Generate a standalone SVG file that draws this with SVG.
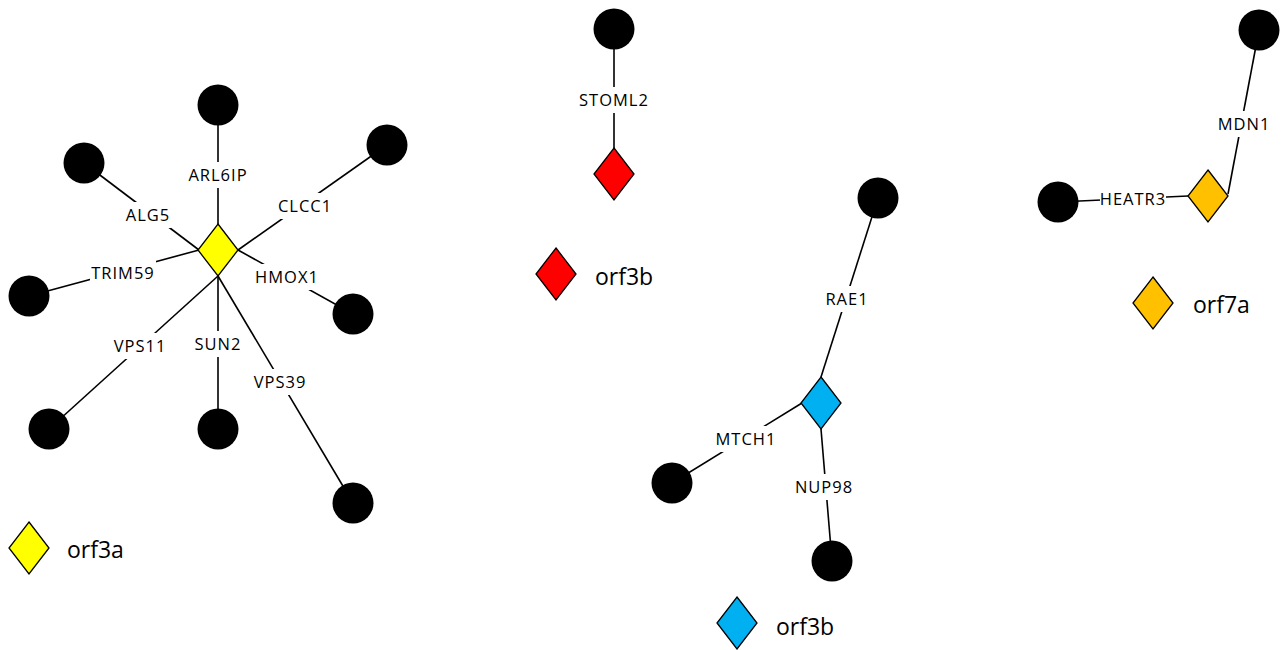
<svg xmlns="http://www.w3.org/2000/svg" width="1284" height="650" viewBox="0 0 1284 650">
<style>
.e{stroke:#000;stroke-width:1.6;fill:none}
.n{fill:#000}
.d{stroke:#000;stroke-width:1.3}
.lb{fill:#fff}
.t{font-family:"Open Sans","Liberation Sans",sans-serif;font-size:16.5px;letter-spacing:1px;fill:#000;text-anchor:middle}
.lg{font-family:"Open Sans","Liberation Sans",sans-serif;font-size:23px;fill:#000}
</style>
<defs>
<path id="dia" d="M0,-26 L20,0 L0,26 L-20,0 Z"/>
</defs>
<rect width="1284" height="650" fill="#fff"/>
<g id="connectors">
<line class="e" x1="218" y1="224" x2="218" y2="105"/>
<line class="e" x1="199" y1="250" x2="84" y2="163"/>
<line class="e" x1="238" y1="250" x2="387" y2="145"/>
<line class="e" x1="199" y1="250" x2="29" y2="296"/>
<line class="e" x1="238" y1="250" x2="353" y2="314"/>
<line class="e" x1="218" y1="276" x2="49" y2="429"/>
<line class="e" x1="218" y1="276" x2="218" y2="429"/>
<line class="e" x1="218" y1="276" x2="353" y2="503"/>
<line class="e" x1="614" y1="148" x2="614" y2="29"/>
<line class="e" x1="821" y1="377" x2="878" y2="198"/>
<line class="e" x1="802" y1="403" x2="672" y2="483"/>
<line class="e" x1="821" y1="429" x2="832" y2="561"/>
<line class="e" x1="1228" y1="194" x2="1259" y2="30"/>
<line class="e" x1="1058" y1="202" x2="1188" y2="196"/>
</g>
<g id="labels">
<rect class="lb" x="187" y="162" width="62" height="26"/><text class="t" x="218" y="181">ARL6IP</text>
<rect class="lb" x="125" y="202" width="46" height="26"/><text class="t" x="148" y="221">ALG5</text>
<rect class="lb" x="277" y="193" width="56" height="26"/><text class="t" x="305" y="212">CLCC1</text>
<rect class="lb" x="90" y="260" width="66" height="26"/><text class="t" x="123" y="279">TRIM59</text>
<rect class="lb" x="254" y="264" width="66" height="26"/><text class="t" x="287" y="283">HMOX1</text>
<rect class="lb" x="112" y="333" width="56" height="26"/><text class="t" x="140" y="352">VPS11</text>
<rect class="lb" x="193" y="331" width="50" height="26"/><text class="t" x="218" y="350">SUN2</text>
<rect class="lb" x="252" y="369" width="56" height="26"/><text class="t" x="280" y="388">VPS39</text>
<rect class="lb" x="578" y="87" width="72" height="26"/><text class="t" x="614" y="106">STOML2</text>
<rect class="lb" x="824" y="286" width="46" height="26"/><text class="t" x="847" y="305">RAE1</text>
<rect class="lb" x="714" y="426" width="64" height="26"/><text class="t" x="746" y="445">MTCH1</text>
<rect class="lb" x="794" y="474" width="60" height="26"/><text class="t" x="824" y="493">NUP98</text>
<rect class="lb" x="1216" y="111" width="56" height="26"/><text class="t" x="1244" y="130">MDN1</text>
<rect class="lb" x="1100" y="188" width="66" height="24"/><text class="t" x="1133" y="205">HEATR3</text>
</g>
<g id="node-ARL6IP"><circle class="n" cx="218" cy="105" r="20.5"/></g>
<g id="node-ALG5"><circle class="n" cx="84" cy="163" r="20.5"/></g>
<g id="node-CLCC1"><circle class="n" cx="387" cy="145" r="20.5"/></g>
<g id="node-TRIM59"><circle class="n" cx="29" cy="296" r="20.5"/></g>
<g id="node-HMOX1"><circle class="n" cx="353" cy="314" r="20.5"/></g>
<g id="node-VPS11"><circle class="n" cx="49" cy="429" r="20.5"/></g>
<g id="node-SUN2"><circle class="n" cx="218" cy="429" r="20.5"/></g>
<g id="node-VPS39"><circle class="n" cx="353" cy="503" r="20.5"/></g>
<g id="node-orf3a"><use href="#dia" x="218" y="250" class="d" fill="#FFFF00"/></g>
<g id="node-STOML2"><circle class="n" cx="614" cy="29" r="20.5"/></g>
<g id="node-orf3b-red"><use href="#dia" x="614" y="174" class="d" fill="#FF0000"/></g>
<g id="node-RAE1"><circle class="n" cx="878" cy="198" r="20.5"/></g>
<g id="node-MTCH1"><circle class="n" cx="672" cy="483" r="20.5"/></g>
<g id="node-NUP98"><circle class="n" cx="832" cy="561" r="20.5"/></g>
<g id="node-orf3b-blue"><use href="#dia" x="821" y="403" class="d" fill="#00B0F0"/></g>
<g id="node-MDN1"><circle class="n" cx="1259" cy="30" r="20.5"/></g>
<g id="node-HEATR3"><circle class="n" cx="1058" cy="202" r="20.5"/></g>
<g id="node-orf7a"><use href="#dia" x="1208" y="196" class="d" fill="#FFC000"/></g>
<g id="legend">
<use href="#dia" x="29" y="548" class="d" fill="#FFFF00"/><text class="lg" x="67" y="558">orf3a</text>
<use href="#dia" x="556" y="274" class="d" fill="#FF0000"/><text class="lg" x="595" y="285">orf3b</text>
<use href="#dia" x="737" y="623" class="d" fill="#00B0F0"/><text class="lg" x="776" y="635">orf3b</text>
<use href="#dia" x="1153" y="303" class="d" fill="#FFC000"/><text class="lg" x="1193" y="313">orf7a</text>
</g>
</svg>
